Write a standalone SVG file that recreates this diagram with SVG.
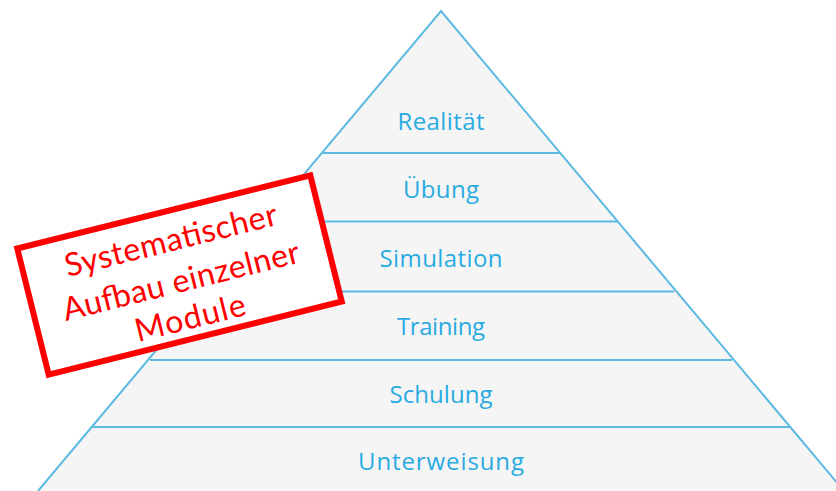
<svg xmlns="http://www.w3.org/2000/svg" width="836" height="491" viewBox="0 0 836 491">
<style>
.lvl{fill:#29ABE2;font-family:"Open Sans","Liberation Sans",sans-serif;font-size:24px;text-anchor:middle}
.edge{stroke:#5AB9E1;stroke-width:2;fill:none}
.note{fill:#FF0000;font-family:"Lato","Liberation Sans",sans-serif;font-size:32px;text-anchor:middle}
</style>
<rect width="836" height="491" fill="#FFFFFF"/>
<g id="pyramid">
<polygon points="441,11 844,491 38,491" fill="#F5F5F5"/>
<polyline class="edge" points="38,491 441,11 844,491"/>
</g>
<g id="connectors">
<line class="edge" x1="323" y1="153" x2="559" y2="153"/>
<line class="edge" x1="265" y1="221.5" x2="617" y2="221.5"/>
<line class="edge" x1="208" y1="291.5" x2="674" y2="291.5"/>
<line class="edge" x1="150" y1="360" x2="732" y2="360"/>
<line class="edge" x1="92" y1="427" x2="790" y2="427"/>
</g>
<g id="n-realitaet"><text class="lvl" x="441" y="130" textLength="87">Realität</text></g>
<g id="n-uebung"><text class="lvl" x="441" y="198" textLength="76">Übung</text></g>
<g id="n-simulation"><text class="lvl" x="441" y="267" textLength="123">Simulation</text></g>
<g id="n-training"><text class="lvl" x="441" y="335" textLength="88">Training</text></g>
<g id="n-schulung"><text class="lvl" x="441" y="403" textLength="103">Schulung</text></g>
<g id="n-unterweisung"><text class="lvl" x="441" y="470" textLength="166">Unterweisung</text></g>
<g id="note" transform="translate(179.5,275) rotate(-14)">
<rect x="-151" y="-65" width="302" height="130" fill="#FFFFFF" stroke="#FF0000" stroke-width="6"/>
<text class="note" x="0" y="-25" textLength="218">Systematischer</text>
<text class="note" x="0" y="17" textLength="243">Aufbau einzelner</text>
<text class="note" x="0" y="55" textLength="113">Module</text>
</g>
</svg>
